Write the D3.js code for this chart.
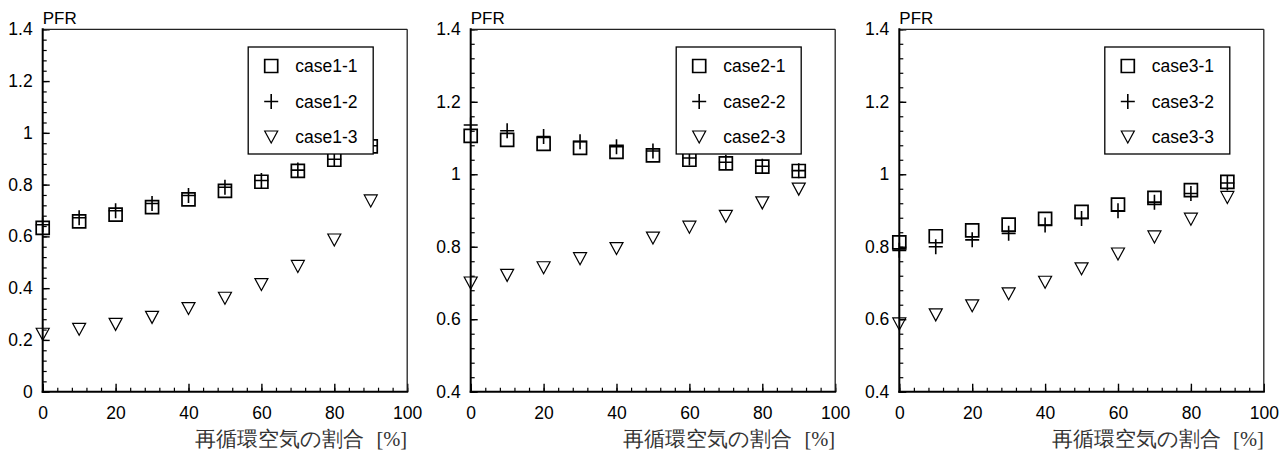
<!DOCTYPE html>
<html>
<head>
<meta charset="utf-8">
<script src="https://cdn.jsdelivr.net/npm/d3@7"></script>
<style>
  body { margin: 0; background: #fff; }
  text { font-family: "Liberation Sans", Arial, sans-serif; }
</style>
</head>
<body>
<div id="chart"></div>
<script>
// recirculated air ratio [%]
const xValues = [0, 10, 20, 30, 40, 50, 60, 70, 80, 90];

// panel 1
const case1_1 = [0.633, 0.658, 0.684, 0.713, 0.743, 0.776, 0.811, 0.853, 0.896, 0.948];
const case1_2 = [0.645, 0.672, 0.699, 0.727, 0.758, 0.790, 0.816, 0.856, 0.898, 0.950];
const case1_3 = [0.222, 0.241, 0.260, 0.287, 0.321, 0.361, 0.414, 0.484, 0.586, 0.737];

// panel 2
const case2_1 = [1.106, 1.095, 1.084, 1.073, 1.062, 1.052, 1.040, 1.030, 1.021, 1.009];
const case2_2 = [1.136, 1.120, 1.104, 1.090, 1.076, 1.064, 1.045, 1.033, 1.022, 1.010];
const case2_3 = [0.700, 0.721, 0.742, 0.767, 0.795, 0.824, 0.854, 0.884, 0.921, 0.959];

// panel 3
const case3_1 = [0.812, 0.829, 0.845, 0.861, 0.877, 0.896, 0.916, 0.935, 0.956, 0.979];
const case3_2 = [0.790, 0.800, 0.819, 0.837, 0.860, 0.878, 0.899, 0.923, 0.947, 0.976];
const case3_3 = [0.587, 0.612, 0.637, 0.670, 0.702, 0.739, 0.780, 0.827, 0.876, 0.936];

const xTicks = [0, 20, 40, 60, 80, 100];
const yTicks1 = [0, 0.2, 0.4, 0.6, 0.8, 1, 1.2, 1.4];
const yTicks23 = [0.4, 0.6, 0.8, 1, 1.2, 1.4];

const yTitle = "PFR";
const xTitle = "再循環空気の割合";
const xUnit = "[%]";

const panels = [
  { names: ["case1-1", "case1-2", "case1-3"], series: [case1_1, case1_2, case1_3], yDomain: [0, 1.4], yTicks: yTicks1 },
  { names: ["case2-1", "case2-2", "case2-3"], series: [case2_1, case2_2, case2_3], yDomain: [0.4, 1.4], yTicks: yTicks23 },
  { names: ["case3-1", "case3-2", "case3-3"], series: [case3_1, case3_2, case3_3], yDomain: [0.4, 1.4], yTicks: yTicks23 }
];

const W = 1287, H = 450;
const panelLefts = [42.7, 470.7, 899.3];
const plotW = 364.5;
const plotTop = 29.3, plotBottom = 391.7;

const svg = d3.select("#chart")
  .append("svg")
  .attr("width", W)
  .attr("height", H);

// marker shapes (square, plus, down triangle)
const shapes = [
  "M-6.5,-6.5H6.5V6.5H-6.5Z",
  "M-7,0H7M0,-7.5V7.5",
  "M-6.5,-6L6.5,-6L0,6Z"
];
const strokeW = [1.7, 1.6, 1.2];

panels.forEach(function (p, i) {
  const g = svg.append("g")
    .attr("transform", "translate(" + panelLefts[i] + "," + plotTop + ")");
  const h = plotBottom - plotTop;

  const x = d3.scaleLinear().domain([0, 100]).range([0, plotW]);
  const y = d3.scaleLinear().domain(p.yDomain).range([h, 0]);

  // minor ticks
  const yMinor = d3.range(p.yDomain[0], p.yDomain[1] + 0.001, 0.04);
  const xMinor = d3.range(0, 100.1, 4);

  g.append("g")
    .call(d3.axisLeft(y).tickValues(yMinor).tickSize(-4).tickFormat(""))
    .call(a => a.select(".domain").remove())
    .call(a => a.selectAll("line").attr("stroke-width", 1.2));

  g.append("g")
    .attr("transform", "translate(0," + h + ")")
    .call(d3.axisBottom(x).tickValues(xMinor).tickSize(-4).tickFormat(""))
    .call(a => a.select(".domain").remove())
    .call(a => a.selectAll("line").attr("stroke-width", 1.2));

  // major ticks + labels
  g.append("g")
    .call(d3.axisLeft(y).tickValues(p.yTicks).tickSize(-7).tickPadding(10).tickFormat(d3.format("~g")))
    .call(a => a.select(".domain").remove())
    .call(a => a.selectAll("line").attr("stroke-width", 1.4))
    .call(a => a.selectAll("text").attr("font-size", "17.5px").attr("fill", "#000")
      .attr("font-family", "'Liberation Sans', Arial, sans-serif"));

  g.append("g")
    .attr("transform", "translate(0," + h + ")")
    .call(d3.axisBottom(x).tickValues(xTicks).tickSize(-8).tickPadding(15))
    .call(a => a.select(".domain").remove())
    .call(a => a.selectAll("line").attr("stroke-width", 1.4))
    .call(a => a.selectAll("text").attr("font-size", "17.5px").attr("fill", "#000")
      .attr("font-family", "'Liberation Sans', Arial, sans-serif"));

  // frame: heavy left/bottom, light top/right
  g.append("line").attr("x1", 0).attr("x2", plotW).attr("y1", 0).attr("y2", 0)
    .attr("stroke", "#222").attr("stroke-width", 1.3);
  g.append("line").attr("x1", plotW).attr("x2", plotW).attr("y1", 0).attr("y2", h)
    .attr("stroke", "#222").attr("stroke-width", 1.3);
  g.append("line").attr("x1", 0).attr("x2", 0).attr("y1", -1).attr("y2", h + 1)
    .attr("stroke", "#000").attr("stroke-width", 2);
  g.append("line").attr("x1", -1).attr("x2", plotW + 1).attr("y1", h).attr("y2", h)
    .attr("stroke", "#000").attr("stroke-width", 2);

  // data markers: triangles first, then squares, then pluses
  [2, 0, 1].forEach(function (s) {
    g.append("g")
      .selectAll("path")
      .data(p.series[s].map((v, k) => ({ x: xValues[k], y: v })))
      .join("path")
      .attr("transform", d => "translate(" + x(d.x) + "," + y(d.y) + ")")
      .attr("d", shapes[s])
      .attr("fill", "none")
      .attr("stroke", "#000")
      .attr("stroke-width", strokeW[s]);
  });

  // legend (white box covers the points behind it)
  const lg = g.append("g").attr("transform", "translate(205.5,17.7)");
  lg.append("rect")
    .attr("width", 125).attr("height", 107)
    .attr("fill", "#fff").attr("stroke", "#000").attr("stroke-width", 1.3);
  p.names.forEach(function (name, k) {
    const ry = 19 + k * 35.5;
    lg.append("path")
      .attr("transform", "translate(23," + ry + ")")
      .attr("d", shapes[k])
      .attr("fill", "none")
      .attr("stroke", "#000")
      .attr("stroke-width", strokeW[k]);
    lg.append("text")
      .attr("x", 47).attr("y", ry)
      .attr("dy", "0.36em")
      .attr("font-size", "17.5px")
      .text(name);
  });

  // axis titles
  g.append("text")
    .attr("x", 0).attr("y", -11)
    .attr("dy", "0.36em")
    .attr("font-size", "17px")
    .text(yTitle);

  const t = g.append("text")
    .attr("x", plotW).attr("y", h + 47)
    .attr("dy", "0.36em")
    .attr("text-anchor", "end")
    .attr("fill", "#333")
    .attr("font-size", "20.5px")
    .attr("font-family", "'Noto Sans CJK JP', sans-serif");
  t.append("tspan").text(xTitle);
  t.append("tspan").attr("dx", "0.6em")
    .attr("font-family", "'Liberation Serif', serif").text(xUnit);
});
</script>
</body>
</html>
